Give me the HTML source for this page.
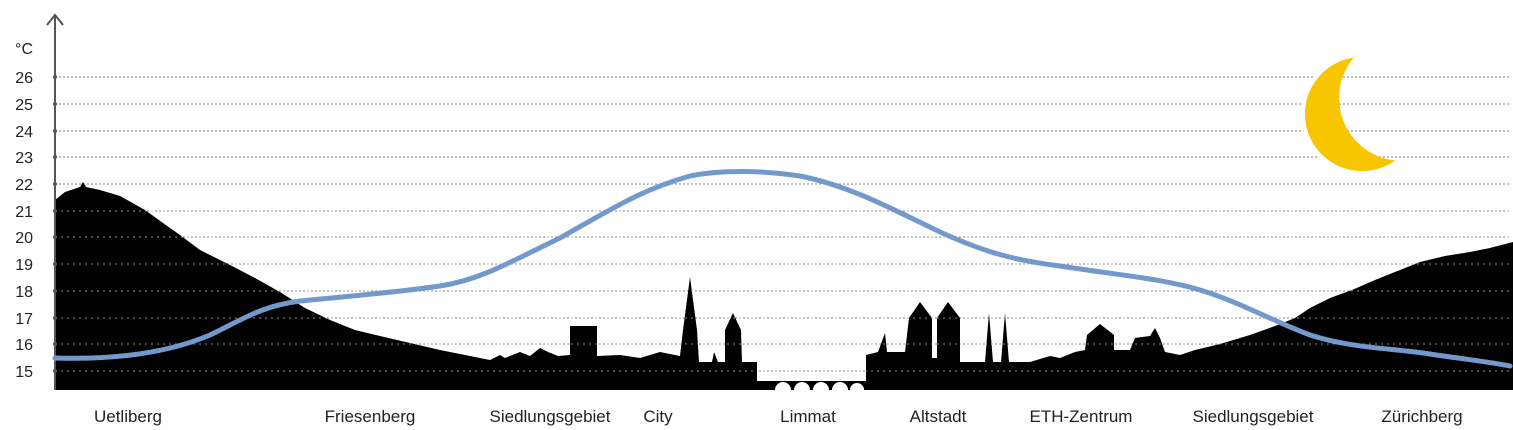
<!DOCTYPE html>
<html><head><meta charset="utf-8"><style>
html,body{margin:0;padding:0;background:#fff;}
svg{display:block;}
text{font-family:"Liberation Sans",Arial,sans-serif;fill:#222;}
</style></head><body>
<svg width="1513" height="430" viewBox="0 0 1513 430" xmlns="http://www.w3.org/2000/svg">
<g stroke="#999" stroke-width="1.2" stroke-dasharray="2,2">
<line x1="55" y1="77" x2="1510" y2="77"/><line x1="55" y1="104" x2="1510" y2="104"/>
<line x1="55" y1="131" x2="1510" y2="131"/><line x1="55" y1="157" x2="1510" y2="157"/>
<line x1="55" y1="184" x2="1510" y2="184"/><line x1="55" y1="211" x2="1510" y2="211"/>
<line x1="55" y1="237" x2="1510" y2="237"/><line x1="55" y1="264" x2="1510" y2="264"/>
<line x1="55" y1="291" x2="1510" y2="291"/><line x1="55" y1="318" x2="1510" y2="318"/>
<line x1="55" y1="344" x2="1510" y2="344"/><line x1="55" y1="371" x2="1510" y2="371"/>
</g>
<path fill="#000" d="M55,390 L55,200 L65,192 L80,187 L83,182 L86,187 L100,190 L120,196 L145,210 L170,228 L180,235 L200,250 L230,265 L255,278 L280,292 L305,308 L330,320 L355,330 L380,336 L410,343 L440,350 L470,356 L490,360 L500,355 L505,358 L520,352 L530,356 L540,348 L548,352 L558,356 L570,355 L570,326 L597,326 L597,356 L620,355 L640,358 L660,352 L680,356 L683,330 L690,277 L697,330 L699,362 L712,362 L714,352 L718,362 L725,362 L725,330 L733,313 L741,330 L742,362 L757,362 L757,381 L866,381 L866,355 L878,352 L885,333 L887,352 L905,352 L909,318 L920,302 L932,318 L932,358 L937,358 L937,318 L948,302 L960,318 L960,362 L985,362 L989,313 L993,362 L1001,362 L1005,313 L1009,362 L1030,362 L1050,356 L1060,358 L1075,352 L1085,350 L1087,335 L1100,324 L1114,335 L1114,350 L1130,350 L1135,338 L1150,336 L1155,328 L1160,338 L1165,352 L1180,355 L1195,350 L1220,344 L1250,335 L1275,326 L1295,318 L1310,308 L1330,298 L1352,290 L1375,280 L1400,270 L1420,262 L1445,256 L1470,252 L1490,248 L1513,242 L1513,390 Z"/>
<g fill="#fff"><path d="M775,390 a8,8 0 0 1 16,0Z M794,390 a8,8 0 0 1 16,0Z M813,390 a8,8 0 0 1 16,0Z M832,390 a8,8 0 0 1 16,0Z M850,390 a7,7 0 0 1 14,0Z"/></g>
<g stroke="#fff" stroke-opacity="0.55" stroke-width="1" stroke-dasharray="2,4">
<line x1="55" y1="211" x2="1510" y2="211"/><line x1="55" y1="237" x2="1510" y2="237"/>
<line x1="55" y1="264" x2="1510" y2="264"/><line x1="55" y1="291" x2="1510" y2="291"/>
<line x1="55" y1="318" x2="1510" y2="318"/><line x1="55" y1="344" x2="1510" y2="344"/>
<line x1="55" y1="371" x2="1510" y2="371"/>
</g>
<line x1="55" y1="16" x2="55" y2="390" stroke="#555" stroke-width="2"/>
<polyline points="47,25 55,15 63,25" fill="none" stroke="#555" stroke-width="2"/>
<g fill="#555">
<circle cx="55" cy="77" r="2"/><circle cx="55" cy="104" r="2"/><circle cx="55" cy="131" r="2"/><circle cx="55" cy="157" r="2"/>
<circle cx="55" cy="184" r="2"/><circle cx="55" cy="211" r="2"/><circle cx="55" cy="237" r="2"/><circle cx="55" cy="264" r="2"/>
<circle cx="55" cy="291" r="2"/><circle cx="55" cy="318" r="2"/><circle cx="55" cy="344" r="2"/><circle cx="55" cy="371" r="2"/>
</g>
<g font-size="16" text-anchor="end">
<text x="33" y="54">°C</text>
<text x="33" y="83">26</text><text x="33" y="110">25</text><text x="33" y="137">24</text><text x="33" y="163">23</text>
<text x="33" y="190">22</text><text x="33" y="217">21</text><text x="33" y="243">20</text><text x="33" y="270">19</text>
<text x="33" y="297">18</text><text x="33" y="324">17</text><text x="33" y="350">16</text><text x="33" y="377">15</text>
</g>
<path fill="none" stroke="#7399cc" stroke-width="5" stroke-linecap="round" d="M55,358 C120,360 170,352 210,335 C245,318 262,306 300,301 C350,296 400,292 440,286 C480,280 510,262 560,238 C610,210 640,190 690,176 C720,170 760,170 800,176 C850,186 890,208 940,232 C980,250 1010,260 1060,266 C1110,274 1160,278 1200,290 C1240,302 1270,320 1310,335 C1350,348 1390,348 1430,354 C1470,360 1490,362 1510,366"/>
<defs><mask id="m"><rect x="1280" y="40" width="150" height="150" fill="#fff"/><circle cx="1402" cy="98" r="63" fill="#000"/></mask></defs>
<circle cx="1362" cy="114" r="57" fill="#f7c600" stroke="#fff" stroke-width="8" paint-order="stroke" mask="url(#m)"/>
<circle cx="1362" cy="114" r="57" fill="#f7c600" mask="url(#m)"/>
<g font-size="17" text-anchor="middle">
<text x="128" y="422">Uetliberg</text><text x="370" y="422">Friesenberg</text><text x="550" y="422">Siedlungsgebiet</text>
<text x="658" y="422">City</text><text x="808" y="422">Limmat</text><text x="938" y="422">Altstadt</text>
<text x="1081" y="422">ETH-Zentrum</text><text x="1253" y="422">Siedlungsgebiet</text><text x="1422" y="422">Zürichberg</text>
</g>
</svg>
</body></html>
